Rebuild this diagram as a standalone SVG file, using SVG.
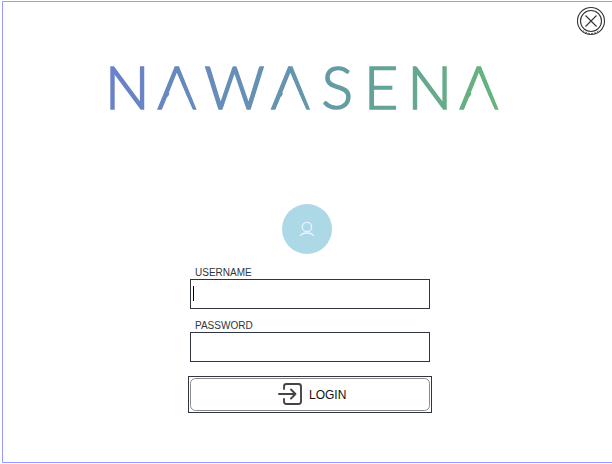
<svg xmlns="http://www.w3.org/2000/svg" width="612" height="464" viewBox="0 0 612 464">
<style>
.lbl{font:10px "Liberation Sans",Arial,sans-serif;fill:#2f3640}
.field{fill:#fff;stroke:#2f3640;stroke-width:1}
.ic{fill:none;stroke:#444;stroke-width:1.900;stroke-linecap:round;stroke-linejoin:round}
</style>
<defs>
<linearGradient id="logoGrad" gradientUnits="userSpaceOnUse" x1="110" y1="0" x2="502" y2="0">
<stop offset="0" stop-color="#6a80cc"/><stop offset="0.5" stop-color="#6497ab"/><stop offset="1" stop-color="#66b57a"/>
</linearGradient>
<clipPath id="noBars">
<path clip-rule="evenodd" d="M100 50H520V125H100Z M177.500 75L194 112H161Z M291 75L307.500 112H274.500Z M479.500 75L496 112H463Z"/>
</clipPath>
</defs>
<rect width="612" height="464" fill="#fff"/>
<path id="frame" d="M612 1.500H2.500V462.500H612" fill="none" stroke="#9999ff" stroke-width="1"/>
<g id="close">
<circle cx="591" cy="21" r="13.500" fill="#fff" stroke="#333" stroke-width="1.100"/>
<circle cx="591" cy="21" r="10.500" fill="none" stroke="#333" stroke-width="1.100"/>
<path d="M583 30.500A12 12 0 0 0 599 30.500" fill="none" stroke="#333" stroke-width="1" stroke-dasharray="1.500 1.500"/>
<path d="M585.500 15.500L596.500 26.500M596.500 15.500L585.500 26.500" fill="none" stroke="#333" stroke-width="1.100"/>
</g>
<g id="logo" clip-path="url(#noBars)">
<text x="105 157.500 204.500 271 321.500 364 407.500 459.500" y="108.500" font-family="Lato,sans-serif" font-weight="300" font-size="59" fill="url(#logoGrad)" stroke="url(#logoGrad)" stroke-width="1.700">NAWASENA</text>
</g>
<g id="avatar">
<circle cx="307" cy="229" r="25" fill="#add8e6"/>
<circle cx="307" cy="227" r="4.700" fill="none" stroke="#e8f5fa" stroke-width="1.300"/>
<path d="M300.500 236C302 232 312 232 313.500 236" fill="none" stroke="#e8f5fa" stroke-width="1.300"/>
</g>
<g id="username">
<text class="lbl" x="195" y="276">USERNAME</text>
<rect class="field" x="190.500" y="279.500" width="239" height="29"/>
<path d="M193.500 286V301" stroke="#000" stroke-width="1"/>
</g>
<g id="password">
<text class="lbl" x="195" y="329">PASSWORD</text>
<rect class="field" x="190.500" y="332.500" width="239" height="29"/>
</g>
<g id="login">
<rect x="188.500" y="376.500" width="243" height="36" fill="#fff" stroke="#2f3640" stroke-width="1"/>
<rect x="190.500" y="378.500" width="239" height="32" rx="5" fill="#fff" stroke="#8a8a8a" stroke-width="1"/>
<path class="ic" d="M284 389V386.500Q284 384 286.500 384H298.500Q301 384 301 386.500V401.500Q301 404 298.500 404H286.500Q284 404 284 401.500V399"/>
<path class="ic" d="M279 394H295.500M291 389.500L295.500 394L291 398.500"/>
<text x="309" y="399" font-family="'Liberation Sans',Arial,sans-serif" font-size="12" fill="#111">LOGIN</text>
</g>
</svg>
